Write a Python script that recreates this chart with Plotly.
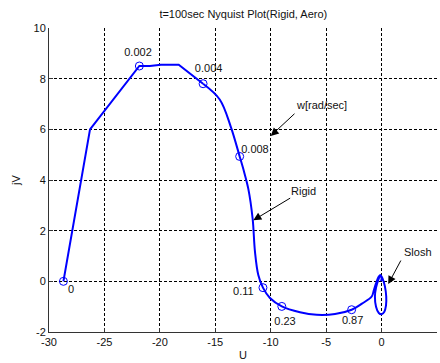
import plotly.graph_objects as go

# Nyquist curve (U = real, jV = imag): low-frequency polyline part
u_low = [-28.7, -26.3, -21.85, -20.9, -19.9, -18.3, -16.1]
v_low = [0.0, 6.0, 8.5, 8.5, 8.55, 8.55, 7.8]
# smooth part (from w=0.004 onwards, incl. slosh loop)
u_high = [-16.1, -14.6, -13.6, -12.8,
          -12.47, -12.02, -11.63, -11.42, -11.12, -10.7, -10.07, -9.0, -7.36, -5.85,
          -4.2, -2.7, -1.77, -0.89, -0.7, -0.5, -0.3, -0.12, 0.1, 0.3, 0.42, 0.4,
          0.25, 0.0, -0.25, -0.5, -0.6, -0.5, -0.3, -0.12, 0.0, -0.05]
v_high = [7.8, 7.18, 6.1, 4.93,
          4.43, 3.65, 2.47, 1.17, 0.25, -0.25, -0.66, -0.99, -1.22, -1.32,
          -1.29, -1.12, -0.88, -0.6, -0.35, -0.08, 0.15, 0.25, 0.1, -0.2, -0.6, -0.95,
          -1.2, -1.3, -1.25, -1.0, -0.6, -0.25, 0.05, 0.22, 0.15, 0.0]

# Frequency markers
u_marks = [-28.7, -21.85, -16.1, -12.8, -10.7, -9.0, -2.7]
v_marks = [0.0, 8.5, 7.8, 4.93, -0.25, -0.99, -1.12]
mark_labels = ["0", "0.002", "0.004", "0.008", "0.11", "0.23", "0.87"]
label_u = [-28.0, -21.97, -15.6, -11.42, -12.47, -8.71, -2.61]
label_v = [-0.34, 9.02, 8.39, 5.19, -0.44, -1.62, -1.58]

x_ticks = [-30, -25, -20, -15, -10, -5, 0, 5]
y_ticks = [-2, 0, 2, 4, 6, 8, 10]

# Callouts: text, text position, arrow tail, arrow tip
callouts = [
    ("w[rad/sec]", -5.4, 6.95, -7.72, 6.67, -10.0, 5.74),
    ("Rigid", -7.06, 3.58, -8.11, 3.32, -11.57, 2.41),
    ("Slosh", 3.31, 1.14, 1.81, 0.88, 0.6, -0.11),
]

FONT = "Liberation Sans, Arial, sans-serif"

fig = go.Figure()
fig.add_trace(go.Scatter(x=u_low, y=v_low, mode="lines",
                         line=dict(color="#0000ff", width=2), showlegend=False))
fig.add_trace(go.Scatter(x=u_high, y=v_high, mode="lines",
                         line=dict(color="#0000ff", width=2, shape="spline"),
                         showlegend=False))
fig.add_trace(go.Scatter(x=u_marks, y=v_marks, mode="markers",
                         marker=dict(symbol="circle-open", size=8, color="#0000ff",
                                     line=dict(width=1)), showlegend=False))
fig.add_trace(go.Scatter(x=label_u, y=label_v, mode="text", text=mark_labels,
                         textfont=dict(family=FONT, size=11, color="#111"),
                         showlegend=False))

for txt, tx, ty, ax_, ay_, hx, hy in callouts:
    fig.add_annotation(x=tx, y=ty, text=txt, showarrow=False,
                       font=dict(family=FONT, size=11, color="#111"))
    fig.add_annotation(x=hx, y=hy, ax=ax_, ay=ay_, xref="x", yref="y",
                       axref="x", ayref="y", text="", showarrow=True,
                       arrowhead=2, arrowsize=1.6, arrowwidth=1, arrowcolor="#000")

fig.update_layout(
    width=440, height=363,
    margin=dict(l=49, r=3, t=28, b=29),
    paper_bgcolor="white", plot_bgcolor="white",
    font=dict(family=FONT, size=11, color="#111"),
    title=dict(text="t=100sec Nyquist Plot(Rigid, Aero)", x=0.553, xanchor="center",
               y=0.962, yanchor="middle", font=dict(family=FONT, size=11, color="#111")),
)
fig.update_xaxes(range=[-30, 5], tickvals=x_ticks, ticktext=[str(t) for t in x_ticks],
                 showgrid=True, gridcolor="#000", griddash="3px,2px", gridwidth=1,
                 zeroline=False, showline=True, linecolor="#333", linewidth=1,
                 ticks="inside", ticklen=4, tickcolor="#333",
                 title=dict(text="U", standoff=4, font=dict(family=FONT, size=11)),
                 tickfont=dict(family=FONT, size=11, color="#111"))
fig.update_yaxes(range=[-2, 10], tickvals=y_ticks, ticktext=[str(t) for t in y_ticks],
                 showgrid=True, gridcolor="#000", griddash="3px,2px", gridwidth=1,
                 zeroline=False, showline=True, linecolor="#333", linewidth=1,
                 ticks="inside", ticklen=4, tickcolor="#333",
                 title=dict(text="jV", standoff=10, font=dict(family=FONT, size=11)),
                 tickfont=dict(family=FONT, size=11, color="#111"))

fig.write_html("out.html")
